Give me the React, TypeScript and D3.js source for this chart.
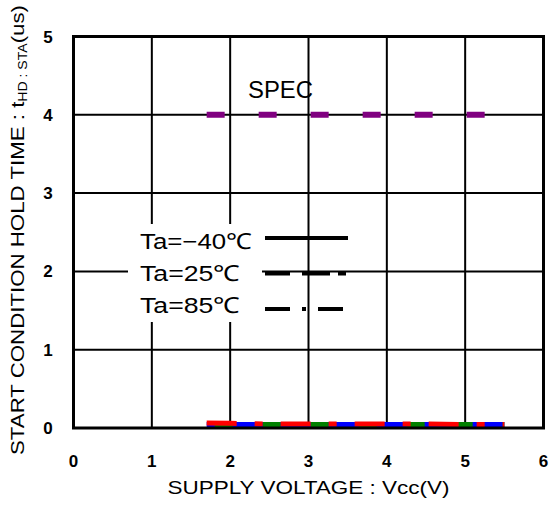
import React from "react";
import * as d3 from "d3";

const xTicks = [0, 1, 2, 3, 4, 5, 6];
const yTicks = [0, 1, 2, 3, 4, 5];
const vcc = [1.7, 2.0, 2.5, 3.0, 3.5, 4.0, 4.5, 5.0, 5.5];
const tM40 = [0.045, 0.045, 0.045, 0.045, 0.045, 0.045, 0.045, 0.045, 0.045];
const t25 = [0.045, 0.045, 0.045, 0.045, 0.045, 0.045, 0.045, 0.045, 0.045];
const t85 = [0.065, 0.06, 0.05, 0.05, 0.05, 0.05, 0.05, 0.045, 0.045];
const specX = [1.7, 5.5];
const specY = [4, 4];
const legendLabels = ["Ta=−40℃", "Ta=25℃", "Ta=85℃"];
const legendDash = ["none", "25 12 28 8 8 10", "25 12 4 12 25 10"];

const W = 550, H = 512;
const L = 73.5, R = 543.5, T = 36.5, B = 428;

export default function App() {
  const x = d3.scaleLinear().domain([0, 6]).range([L, R]);
  const y = d3.scaleLinear().domain([0, 5]).range([B, T]);
  const line = d3.line<[number, number]>().x(d => x(d[0])).y(d => y(d[1]));
  const mk = (vals: number[]) => vcc.map((v, i) => [v, vals[i]] as [number, number]);
  const font = "'Liberation Sans', Arial, sans-serif";
  const legendW = [112, 100, 100];
  return (
    <svg width={W} height={H} style={{ position: "absolute", left: 0, top: 0, background: "#fff" }} fontFamily={font}>
      <rect x={0} y={0} width={W} height={H} fill="#fff" />
      {xTicks.slice(1, -1).map(t => (
        <line key={"gx" + t} x1={x(t)} x2={x(t)} y1={T} y2={B} stroke="#000" strokeWidth={2} />
      ))}
      {yTicks.slice(1, -1).map(t => (
        <line key={"gy" + t} x1={L} x2={R} y1={y(t)} y2={y(t)} stroke="#000" strokeWidth={2} />
      ))}
      {/* legend background */}
      <rect x={128} y={224} width={134} height={98} fill="#fff" />
      {legendLabels.map((lab, i) => (
        <text key={lab} x={140} y={249 + i * 32} fontSize={22} fill="#000"
          textLength={legendW[i]} lengthAdjust="spacingAndGlyphs">{lab}</text>
      ))}
      {legendLabels.map((lab, i) => (
        <line key={"ll" + i} x1={265} x2={348} y1={238 + i * 35.5} y2={238 + i * 35.5}
          stroke="#000" strokeWidth={4} strokeDasharray={legendDash[i]} />
      ))}
      {/* spec */}
      <text x={248} y={98} fontSize={23} fill="#000" textLength={65} lengthAdjust="spacingAndGlyphs">SPEC</text>
      <path d={line(specX.map((v, i) => [v, specY[i]] as [number, number])) || ""}
        stroke="#800080" strokeWidth={6} fill="none" strokeDasharray="18 34" />
      {/* data */}
      <path d={line(mk(tM40)) || ""} stroke="#0000ff" strokeWidth={5} fill="none" />
      <path d={line(mk(t25)) || ""} stroke="#008000" strokeWidth={5} fill="none" strokeDasharray="18 30" strokeDashoffset={-56} />
      <path d={line(mk(t85)) || ""} stroke="#ff0000" strokeWidth={5} fill="none" strokeDasharray="30 18 8 18" />
      {/* frame */}
      <rect x={L} y={T} width={R - L} height={B - T} fill="none" stroke="#000" strokeWidth={3} />
      {yTicks.map(t => (
        <text key={"yt" + t} x={48} y={y(t) + 6} fontSize={17} fontWeight="bold" textAnchor="middle" fill="#000">{t}</text>
      ))}
      {xTicks.map(t => (
        <text key={"xt" + t} x={x(t)} y={467} fontSize={17} fontWeight="bold" textAnchor="middle" fill="#000">{t}</text>
      ))}
      <text x={(L + R) / 2} y={494} fontSize={18} textAnchor="middle" fill="#000"
        textLength={282} lengthAdjust="spacingAndGlyphs">SUPPLY VOLTAGE : Vcc(V)</text>
      <text transform={`translate(24,230) rotate(-90)`} fontSize={19} textAnchor="middle" fill="#000"
        textLength={450} lengthAdjust="spacingAndGlyphs">
        START CONDITION HOLD TIME : t<tspan fontSize={12} dy={3}>HD : STA</tspan><tspan dy={-3}>(us)</tspan>
      </text>
    </svg>
  );
}
